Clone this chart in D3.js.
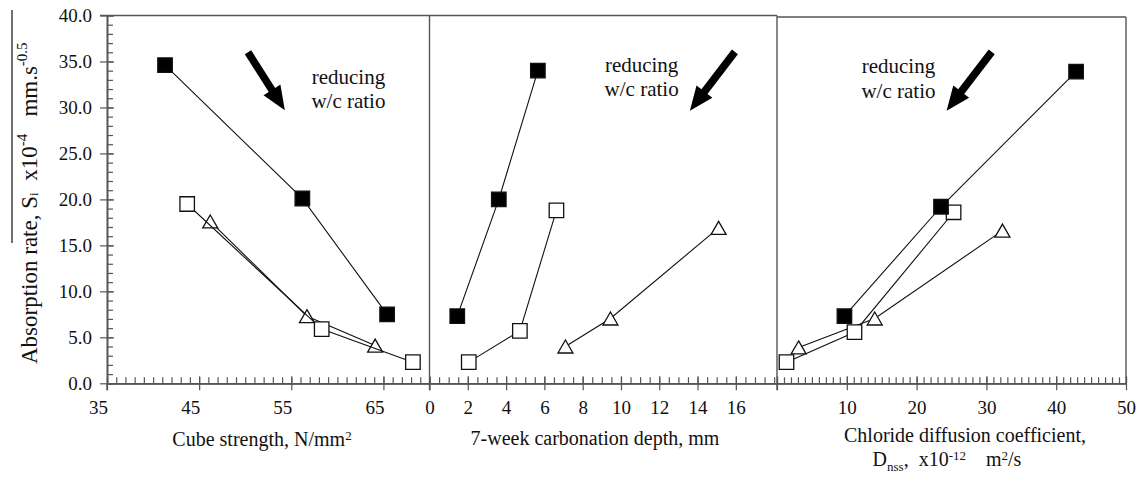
<!DOCTYPE html>
<html><head><meta charset="utf-8">
<script src="https://cdn.jsdelivr.net/npm/d3@7"></script>
<style>
body{margin:0;background:#fff}
svg{display:block}
text{font-family:"Liberation Serif","Times New Roman",serif;fill:#111;white-space:pre}
</style>
</head><body>
<svg id="c" width="1140" height="477"></svg>
<script>
// ---- tick values ----
const yTicks = [0, 5, 10, 15, 20, 25, 30, 35, 40];
const strengthTicks = [35, 45, 55, 65];
const carbTicks = [0, 2, 4, 6, 8, 10, 12, 14, 16];
const chlorideTicks = [10, 20, 30, 40, 50];

// ---- panel 1: cube strength ----
const strengthFilled = [41.3, 56.2, 65.4];
const absStrengthFilled = [34.6, 20.1, 7.5];
const strengthOpen = [43.7, 58.3, 68.2];
const absStrengthOpen = [19.5, 5.9, 2.3];
const strengthTri = [46.2, 56.7, 64.1];
const absStrengthTri = [17.6, 7.3, 4.1];

// ---- panel 2: 7-week carbonation depth ----
const carbFilled = [1.45, 3.62, 5.66];
const absCarbFilled = [7.3, 20.0, 34.0];
const carbOpen = [2.05, 4.72, 6.63];
const absCarbOpen = [2.3, 5.7, 18.8];
const carbTri = [7.1, 9.45, 15.1];
const absCarbTri = [4.0, 7.05, 16.9];

// ---- panel 3: chloride diffusion coefficient ----
const chlFilled = [9.66, 23.5, 42.85];
const absChlFilled = [7.3, 19.2, 33.9];
const chlOpen = [1.36, 11.1, 25.3];
const absChlOpen = [2.3, 5.56, 18.6];
const chlTri = [3.1, 14.0, 32.3];
const absChlTri = [3.9, 7.05, 16.6];

const svg = d3.select('#c');
const AX = '#555';
const y = d3.scaleLinear().domain([0, 40]).range([383.3, 15.5]);
const x1 = d3.scaleLinear().domain([35, 70]).range([107, 429.5]);
const x2 = d3.scaleLinear().domain([0, 18.15]).range([429.5, 777]);
const x3 = d3.scaleLinear().domain([0, 50]).range([777, 1126]);

// ---- frame ----
const frame = svg.append('g').attr('stroke', AX).attr('stroke-width', 1.4).attr('fill', 'none');
frame.append('line').attr('x1', 100).attr('x2', 777).attr('y1', y(40)).attr('y2', y(40));
frame.append('line').attr('x1', 777).attr('x2', x3(50)).attr('y1', y(40) + 1.5).attr('y2', y(40) + 1.5);
frame.append('line').attr('x1', x3(50)).attr('x2', x3(50)).attr('y1', y(40) + 1.5).attr('y2', y(0));
frame.append('line').attr('x1', x2(0)).attr('x2', x2(0)).attr('y1', y(40)).attr('y2', y(0) + 7);
frame.append('line').attr('x1', x3(0)).attr('x2', x3(0)).attr('y1', y(40)).attr('y2', y(0) + 7);

function styleAxis(g) {
  g.select('.domain').attr('stroke', AX).attr('stroke-width', 1.4);
  g.selectAll('.tick line').attr('stroke', AX).attr('stroke-width', 1.2);
  g.selectAll('.tick text').style('font-family', '"Liberation Serif",serif').style('font-size', '19px').attr('fill', '#111');
}

// ---- y axis ----
const yMinor = d3.range(0, 40.01, 1);
svg.append('g').attr('transform', 'translate(107,0)')
  .call(d3.axisRight(y).tickValues(yMinor).tickSize(6).tickFormat('').tickSizeOuter(0))
  .call(styleAxis);
svg.append('g').attr('transform', 'translate(107,0)')
  .call(d3.axisRight(y).tickValues(yTicks).tickSize(7).tickFormat('').tickSizeOuter(0))
  .call(styleAxis);
svg.append('g').attr('transform', 'translate(107,0)')
  .call(d3.axisLeft(y).tickValues(yTicks).tickSize(7).tickPadding(8).tickFormat(d3.format('.1f')).tickSizeOuter(0))
  .call(styleAxis);
svg.append('line').attr('x1', 107).attr('x2', 107).attr('y1', y(0)).attr('y2', y(0) + 7).attr('stroke', AX).attr('stroke-width', 1.4);

// ---- x axes ----
function xAxis(sc, minor, major, labels, dx) {
  const g0 = y(0);
  svg.append('g').attr('transform', `translate(0,${g0})`)
    .call(d3.axisTop(sc).tickValues(minor).tickSize(6).tickFormat('').tickSizeOuter(0))
    .call(styleAxis);
  svg.append('g').attr('transform', `translate(0,${g0})`)
    .call(d3.axisTop(sc).tickValues(major).tickSize(7).tickFormat('').tickSizeOuter(0))
    .call(styleAxis);
  const gb = svg.append('g').attr('transform', `translate(0,${g0})`)
    .call(d3.axisBottom(sc).tickValues(major).tickSize(7).tickPadding(10)
      .tickFormat(d => labels.includes(d) ? d : '').tickSizeOuter(0))
    .call(styleAxis);
  gb.selectAll('.tick text').attr('dx', dx);
}
xAxis(x1, d3.range(35, 70.01, 1), strengthTicks, strengthTicks, -9);
xAxis(x2, d3.range(0, 18.01, 0.5), carbTicks, carbTicks, 0);
xAxis(x3, d3.range(0, 50.01, 1), [0].concat(chlorideTicks), chlorideTicks, 0);

// ---- markers ----
const triType = { draw(ctx, size) { const w = 15, h = 13; ctx.moveTo(0, -h / 2); ctx.lineTo(w / 2, h / 2); ctx.lineTo(-w / 2, h / 2); ctx.closePath(); } };
function series(sc, xv, yv, kind) {
  const pts = xv.map((v, i) => [sc(v), y(yv[i])]);
  svg.append('path').attr('d', d3.line()(pts)).attr('fill', 'none').attr('stroke', '#111').attr('stroke-width', 1.1);
  const sym = kind === 'tri' ? d3.symbol().type(triType) : d3.symbol().type(d3.symbolSquare).size(210);
  svg.append('g').selectAll('path').data(pts).join('path')
    .attr('transform', d => `translate(${d[0]},${d[1]})`)
    .attr('d', sym)
    .attr('fill', kind === 'filled' ? '#000' : '#fff')
    .attr('stroke', '#111').attr('stroke-width', 1.3);
}
series(x1, strengthTri, absStrengthTri, 'tri');
series(x1, strengthOpen, absStrengthOpen, 'open');
series(x1, strengthFilled, absStrengthFilled, 'filled');
series(x2, carbTri, absCarbTri, 'tri');
series(x2, carbOpen, absCarbOpen, 'open');
series(x2, carbFilled, absCarbFilled, 'filled');
series(x3, chlTri, absChlTri, 'tri');
series(x3, chlOpen, absChlOpen, 'open');
series(x3, chlFilled, absChlFilled, 'filled');

// ---- annotations ----
function arrow(sc, from, to) {
  const x0 = sc(from[0]), y0 = y(from[1]), xa = sc(to[0]), ya = y(to[1]);
  const dx = xa - x0, dy = ya - y0, L = Math.hypot(dx, dy), ux = dx / L, uy = dy / L, nx = -uy, ny = ux;
  const hl = 24, hw = 10, sw = 3.8;
  const bx = xa - ux * hl, by = ya - uy * hl;
  const p = [[x0 + nx * sw, y0 + ny * sw], [bx + nx * sw, by + ny * sw], [bx + nx * hw, by + ny * hw], [xa, ya],
    [bx - nx * hw, by - ny * hw], [bx - nx * sw, by - ny * sw], [x0 - nx * sw, y0 - ny * sw]];
  svg.append('path').attr('d', d3.line()(p) + 'Z').attr('fill', '#000');
}
function note(sc, xv, y1, y2) {
  svg.append('text').attr('x', sc(xv)).attr('y', y(y1)).attr('text-anchor', 'middle').style('font-size', '21px').text('reducing');
  svg.append('text').attr('x', sc(xv)).attr('y', y(y2)).attr('text-anchor', 'middle').style('font-size', '21px').text('w/c ratio');
}
arrow(x1, [50.3, 36.0], [54.3, 29.7]);
note(x1, 61.2, 32.6, 29.9);
arrow(x2, [15.95, 36.05], [13.6, 29.65]);
note(x2, 11.08, 33.9, 31.2);
arrow(x3, [30.76, 36.05], [24.3, 29.65]);
note(x3, 17.4, 33.7, 31.0);

// ---- axis titles ----
const t1 = svg.append('text').attr('x', 262).attr('y', 446).attr('text-anchor', 'middle').style('font-size', '20px');
t1.append('tspan').text('Cube strength, N/mm');
t1.append('tspan').attr('dy', -6).style('font-size', '13px').text('2');
svg.append('text').attr('x', 595).attr('y', 445).attr('text-anchor', 'middle').style('font-size', '20px')
  .text('7-week carbonation depth, mm');
svg.append('text').attr('x', 965).attr('y', 442).attr('text-anchor', 'middle').style('font-size', '20px')
  .text('Chloride diffusion coefficient,');
const t3 = svg.append('text').attr('x', 947).attr('y', 466).attr('text-anchor', 'middle').style('font-size', '20px');
t3.append('tspan').text('D');
t3.append('tspan').attr('dy', 5).style('font-size', '13px').text('nss');
t3.append('tspan').attr('dy', -5).text(',  x10');
t3.append('tspan').attr('dy', -6).style('font-size', '13px').text('-12');
t3.append('tspan').attr('dy', 6).text('    m');
t3.append('tspan').attr('dy', -6).style('font-size', '13px').text('2');
t3.append('tspan').attr('dy', 6).text('/s');

// y title
const yt = svg.append('text').attr('transform', 'translate(37,364) rotate(-90)').attr('x', 0).attr('y', 0)
  .attr('text-anchor', 'start').style('font-size', '23px');
yt.append('tspan').text('Absorption rate, S');
yt.append('tspan').attr('dy', 1).style('font-size', '13px').text('i');
yt.append('tspan').attr('dy', -1).text('  x10');
yt.append('tspan').attr('dy', -10).style('font-size', '15px').text('-4');
yt.append('tspan').attr('dy', 10).text('   mm.s');
yt.append('tspan').attr('dy', -10).style('font-size', '15px').text('-0.5');
svg.append('line').attr('x1', 12).attr('x2', 12).attr('y1', 10).attr('y2', 243).attr('stroke', '#111').attr('stroke-width', 1.2);
</script>
</body></html>
